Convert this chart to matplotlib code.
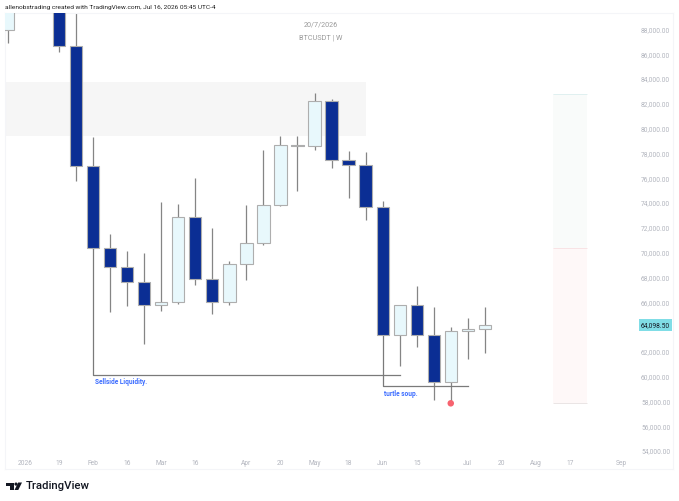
import matplotlib
matplotlib.use("Agg")
import matplotlib.pyplot as plt
from matplotlib.patches import Rectangle, Polygon, Ellipse

plt.rcParams['font.family'] = ['Roboto', 'DejaVu Sans']

W, H = 679, 502

# weekly candles, first one is the partly visible candle at the left edge
opens = [87903, 90500, 91800, 92000, 86565, 76911, 70298, 68790, 67581, 65702,
         65919, 72774, 67798, 65968, 68984, 70677, 73742, 78581, 78500, 82153,
         77395, 76992, 73629, 63258, 65702, 63258, 59516, 63605, 63742]
closes = [89500, 91800, 92000, 86565, 76911, 70298, 68790, 67581, 65702, 65919,
          72774, 67798, 65968, 68984, 70677, 73742, 78581, 78500, 82153, 77395,
          76992, 73629, 63258, 65702, 63258, 59516, 63605, 63742, 64098.5]
highs = [90200, 92500, 93000, 93000, 90000, 79226, 71403, 70080, 69920, 73984,
         73822, 75944, 71935, 69250, 73766, 78202, 79331, 79331, 82774, 82315,
         78121, 78040, 74089, 65742, 67234, 65540, 63927, 64653, 65540]
lows = [86806, 90000, 90000, 86105, 75677, 70200, 65113, 65597, 62557, 65242,
        65806, 67339, 64976, 65726, 67718, 70540, 73700, 74919, 78202, 76774,
        74331, 72532, 63258, 60758, 62290, 58065, 57774, 61322, 61831]

date_ticks = [1, 3, 5, 7, 9, 11, 14, 16, 18, 20, 22, 24, 27, 29, 31, 33, 36]
date_labels = ['2026', '19', 'Feb', '16', 'Mar', '16', 'Apr', '20', 'May', '18',
               'Jun', '15', 'Jul', '20', 'Aug', '17', 'Sep']
# 64,000 is hidden by the last price tag
price_ticks = [88000, 86000, 84000, 82000, 80000, 78000, 76000, 74000, 72000,
               70000, 68000, 66000, 62000, 60000, 58000, 56000, 54000]
last_price = 64098.5

# drawings
zone_top, zone_bottom, zone_end = 83710, 79331, 21
sellside_level, sellside_start, sellside_end = 60056, 5, 23
turtle_level, turtle_start, turtle_end = 59145, 22, 27
pos_left, pos_right = 32, 34
pos_top, pos_mid, pos_bottom = 82718, 70260, 57774

DARK = '#0b2e94'
LIGHT = '#e8f8fc'
GRAY = '#b2b5be'
INK = '#131722'


def fx(x):
    return x / W


def fy(y):
    return 1 - y / H


fig = plt.figure(figsize=(W / 100, H / 100), dpi=100, facecolor='white')
ax = fig.add_axes([fx(5), fy(470), 668 / W, 456 / H])
ax.set_xlim(-0.176, 39.05)
ax.set_ylim(52476, 89250)

for s in ax.spines.values():
    s.set_color('#f4f5f8')
    s.set_linewidth(0.8)

# zones
ax.add_patch(Rectangle((-1, zone_bottom), zone_end + 1, zone_top - zone_bottom,
                       facecolor='#f6f6f6', edgecolor='none', zorder=1))
ax.add_patch(Rectangle((pos_left, pos_mid), pos_right - pos_left, pos_top - pos_mid,
                       facecolor='#f9fbfa', edgecolor='none', zorder=1))
ax.add_patch(Rectangle((pos_left, pos_bottom), pos_right - pos_left, pos_mid - pos_bottom,
                       facecolor='#fef8f8', edgecolor='none', zorder=1))
ax.hlines(pos_top, pos_left, pos_right, color='#dcefef', lw=0.6, zorder=1)
ax.hlines(pos_mid, pos_left, pos_right, color='#f8dfe2', lw=0.6, zorder=1)
ax.hlines(pos_bottom, pos_left, pos_right, color='#e6e0e0', lw=0.6, zorder=1)

# candles
for i in range(len(opens)):
    up = closes[i] >= opens[i]
    ax.vlines(i, lows[i], highs[i], color='#858585', lw=0.9, zorder=2)
    ax.bar(i, abs(closes[i] - opens[i]), bottom=min(opens[i], closes[i]), width=0.72,
           color=LIGHT if up else DARK, edgecolor='#aeaeae', linewidth=0.8, zorder=3)

# liquidity lines
ax.plot([sellside_start, sellside_start, sellside_end],
        [opens[sellside_start + 1], sellside_level, sellside_level],
        color='#7a7a7a', lw=0.9, zorder=2)
ax.plot([turtle_start, turtle_start, turtle_end],
        [closes[turtle_start], turtle_level, turtle_level],
        color='#7a7a7a', lw=0.9, zorder=2)
ax.text(5.1, 59590, 'Sellside Liquidity.', color='#3b6cff', fontsize=4.7,
        fontweight='bold', va='center', ha='left', zorder=5)
ax.text(22.1, 58620, 'turtle soup.', color='#3b6cff', fontsize=4.7,
        fontweight='bold', va='center', ha='left', zorder=5)

# red dot under the low
ax.scatter([26], [lows[26]], s=22, color='#f7636f', edgecolors='none', zorder=6)

# axes labels sit inside the pane
ax.set_xticks(date_ticks, date_labels)
ax.tick_params(axis='x', length=0, pad=-7, labelsize=4.8, labelcolor=GRAY)
ax.yaxis.tick_right()
ax.set_yticks(price_ticks, [f'{p:,.2f}' for p in price_ticks])
ax.tick_params(axis='y', length=0, pad=-23, labelsize=4.8, labelcolor=GRAY)
for t in ax.get_xticklabels() + ax.get_yticklabels():
    t.set_zorder(6)

# last price tag
ax.text(0.952, last_price, f'{last_price:,.2f}', transform=ax.get_yaxis_transform(),
        fontsize=4.8, color=INK, va='center', ha='left', zorder=8,
        bbox=dict(facecolor='#80dde6', edgecolor='none', pad=1.7))

fig.text(fx(321), fy(25), '20/7/2026', color='#9a9a9a', fontsize=5.2, ha='center', va='center')
fig.text(fx(321), fy(38), 'BTCUSDT | W', color='#9a9a9a', fontsize=5.2, ha='center', va='center')
fig.text(fx(5), fy(8), 'allenobstrading created with TradingView.com, Jul 16, 2026 05:45 UTC-4',
         color='#222222', fontsize=4.65, ha='left', va='center')

# logo
tr = fig.transFigure
fig.add_artist(Polygon([(fx(6), fy(483.5)), (fx(13.5), fy(483.5)), (fx(13.5), fy(491)), (fx(9.7), fy(491)),
                        (fx(9.7), fy(486.7)), (fx(6), fy(486.7))], closed=True, color=INK, lw=0, transform=tr))
fig.add_artist(Polygon([(fx(18.2), fy(483.5)), (fx(22), fy(483.5)), (fx(18.3), fy(491)), (fx(14.5), fy(491))],
                       closed=True, color=INK, lw=0, transform=tr))
fig.add_artist(Ellipse((fx(16), fy(485.1)), 3.2 / W, 3.2 / H, color=INK, lw=0, transform=tr))
fig.text(fx(26), fy(486.5), 'TradingView', color=INK, fontsize=8.2, fontweight='medium',
         ha='left', va='center')

fig.savefig('out.png', dpi=100)
